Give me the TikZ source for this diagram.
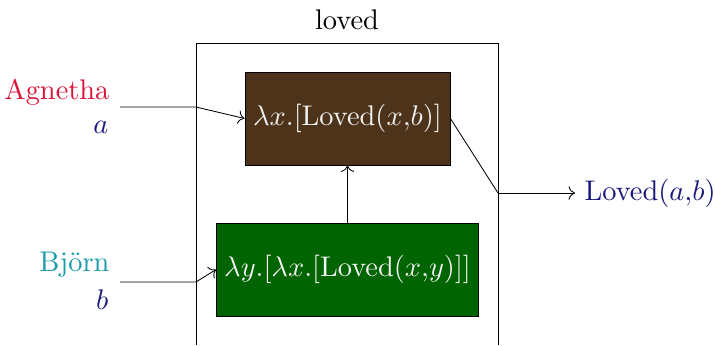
\documentclass[tikz,border=0pt]{standalone}
\usetikzlibrary{arrows.meta}
\definecolor{crimsonc}{HTML}{DC143C}
\definecolor{tealc}{HTML}{1B9CAB}
\definecolor{navyc}{HTML}{1A1A7A}
\definecolor{brownc}{HTML}{4D3319}
\definecolor{greenc}{HTML}{006400}
\definecolor{boxtext}{HTML}{F2F2F2}
\begin{document}
\begin{tikzpicture}[x=0.352pt,y=-0.352pt,
  every node/.style={font=\normalsize},
  lbl/.style={inner sep=0pt},
  fbox/.style={draw=black,line width=0.3pt,minimum width=#1*0.352pt,minimum height=93*0.352pt,inner sep=0pt,text=boxtext},
  conn/.style={line width=0.3pt,->},
  wire/.style={line width=0.3pt}]
\useasboundingbox (0,0) rectangle (715,345);
% outer frame
\draw[wire] (196,345) -- (196,43) -- (498,43) -- (498,345);
\node[lbl] (title) at (347,20) {loved};
% boxes
\node[fbox=205,fill=brownc] (bro) at (347.5,118.5) {$\lambda x.[\mathrm{Loved}(x{,}b)]$};
\node[fbox=262,fill=greenc] (gre) at (347.5,269.5) {$\lambda y.[\lambda x.[\mathrm{Loved}(x{,}y)]]$};
% inputs
\node[lbl,anchor=east,text=crimsonc] (agn) at (110,92) {Agnetha};
\node[lbl,anchor=east,text=navyc] (agna) at (109,127) {$a$};
\node[lbl,anchor=east,text=tealc] (bjo) at (110,265) {Björn};
\node[lbl,anchor=east,text=navyc] (bjob) at (109,300) {$b$};
\coordinate (ain) at (120,107);
\coordinate (aj) at (196,107);
\coordinate (bin) at (120,282);
\coordinate (bj) at (196,282);
\draw[conn] (ain) -- (aj) -- (bro.west);
\draw[conn] (bin) -- (bj) -- (gre.west);
\draw[conn] (gre.north) -- (bro.south);
% output
\coordinate (oj) at (498,193);
\coordinate (oend) at (575,193);
\node[lbl,anchor=west,text=navyc] (out) at (584,193) {$\mathrm{Loved}(a{,}b)$};
\draw[wire] (bro.east) -- (oj);
\draw[conn] (oj) -- (oend);
\end{tikzpicture}
\end{document}
